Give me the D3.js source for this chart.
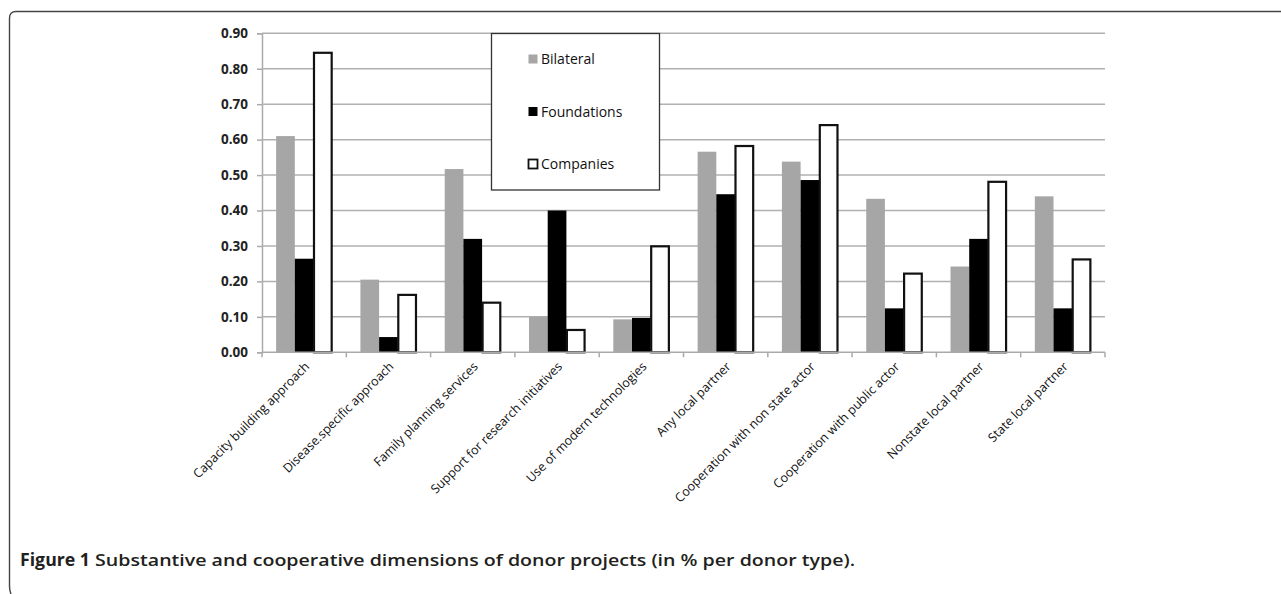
<!DOCTYPE html>
<html lang="en">
<head>
<meta charset="UTF-8">
<title>Donor projects</title>
<script src="https://d3js.org/d3.v7.min.js"></script>
<style>
    body { margin: 0; background: #fff; }
    .tick text { font-family: "Open Sans", sans-serif; }
    .ylab { font-size: 13.5px; font-weight: bold; fill: #222; }
    .xlab { font-size: 12.5px; fill: #111; }
    .leg { font-family: "Open Sans", sans-serif; font-size: 14px; fill: #111; }
    .caption { font-family: "Open Sans", sans-serif; font-size: 17px; fill: #231f20; }
</style>
</head>
<body>
<script>
    const width = 1281;
    const height = 594;

    const categories = [
        "Capacity building approach",
        "Disease.specific approach",
        "Family planning services",
        "Support for research initiatives",
        "Use of modern technologies",
        "Any local partner",
        "Cooperation with non state actor",
        "Cooperation with public actor",
        "Nonstate local partner",
        "State local partner"
    ];
    const seriesNames = ["Bilateral", "Foundations", "Companies"];
    const bilateral   = [0.610, 0.205, 0.517, 0.100, 0.093, 0.566, 0.538, 0.433, 0.242, 0.440];
    const foundations = [0.264, 0.043, 0.320, 0.400, 0.097, 0.446, 0.486, 0.124, 0.320, 0.124];
    const companies   = [0.845, 0.162, 0.140, 0.063, 0.299, 0.582, 0.641, 0.222, 0.481, 0.262];
    const yTicks = [0, 0.1, 0.2, 0.3, 0.4, 0.5, 0.6, 0.7, 0.8, 0.9];

    const values = { Bilateral: bilateral, Foundations: foundations, Companies: companies };
    const fills = { Bilateral: "#a6a6a6", Foundations: "#000", Companies: "#fff" };

    const svg = d3.select("body").append("svg")
        .attr("width", width)
        .attr("height", height);

    // figure frame (only top and left edges visible)
    svg.append("path")
        .attr("d", "M11,594 Q9.5,591 9.5,586 L9.5,18 Q9.5,11.5 16,11.5 L1281,11.5")
        .attr("fill", "none")
        .attr("stroke", "#444")
        .attr("stroke-width", 1.4);

    const plotL = 262, plotR = 1105, plotT = 33.3, plotB = 352.3;

    const x0 = d3.scaleBand().domain(categories).range([plotL, plotR]).paddingInner(0.335).paddingOuter(0.1675);
    const x1 = d3.scaleBand().domain(seriesNames).range([0, x0.bandwidth()]);
    const y = d3.scaleLinear().domain([0, 0.9]).range([plotB, plotT]);

    // gridlines + y axis
    const yAxis = svg.append("g")
        .attr("transform", `translate(${plotL},0)`)
        .call(d3.axisLeft(y).tickValues(yTicks).tickFormat(d3.format(".2f")).tickSize(5).tickPadding(9));
    yAxis.select(".domain").attr("stroke", "#aaa").attr("stroke-width", 1.5);
    yAxis.selectAll(".tick line").attr("stroke", "#aaa").attr("stroke-width", 1.5);
    yAxis.selectAll(".tick text").attr("class", "ylab");

    svg.append("g").selectAll("line")
        .data(yTicks.slice(1))
        .join("line")
        .attr("x1", plotL).attr("x2", plotR)
        .attr("y1", d => y(d)).attr("y2", d => y(d))
        .attr("stroke", "#b0b0b0")
        .attr("stroke-width", 1.5);

    // bars
    const groups = svg.append("g").selectAll("g")
        .data(categories)
        .join("g")
        .attr("transform", d => `translate(${x0(d)},0)`);

    groups.selectAll("rect")
        .data((c, i) => seriesNames.map(s => ({ s, v: values[s][i] })))
        .join("rect")
        .attr("x", d => x1(d.s) + (d.s === "Companies" ? 0.5 : 0))
        .attr("y", d => y(d.v))
        .attr("width", d => x1.bandwidth() - (d.s === "Companies" ? 1 : 0))
        .attr("height", d => y(0) - y(d.v))
        .attr("fill", d => fills[d.s])
        .attr("stroke", d => d.s === "Companies" ? "#111" : "none")
        .attr("stroke-width", 2.2);

    // x axis with ticks between categories
    const step = x0.step();
    svg.append("line")
        .attr("x1", plotL).attr("x2", plotR)
        .attr("y1", plotB).attr("y2", plotB)
        .attr("stroke", "#aaa").attr("stroke-width", 1.5);
    svg.append("g").selectAll("line")
        .data(d3.range(categories.length + 1))
        .join("line")
        .attr("x1", i => plotL + i * step).attr("x2", i => plotL + i * step)
        .attr("y1", plotB).attr("y2", plotB + 5)
        .attr("stroke", "#aaa").attr("stroke-width", 1.5);

    svg.append("g").selectAll("text")
        .data(categories)
        .join("text")
        .attr("class", "xlab")
        .attr("font-family", "Open Sans, sans-serif")
        .attr("text-anchor", "end")
        .attr("transform", d => `translate(${x0(d) + x0.bandwidth() / 2 + 6},${plotB + 15}) rotate(-45)`)
        .text(d => d);

    // legend
    const leg = svg.append("g");
    leg.append("rect")
        .attr("x", 491.5).attr("y", 33.5)
        .attr("width", 168).attr("height", 156.5)
        .attr("fill", "#fff")
        .attr("stroke", "#333")
        .attr("stroke-width", 1.3);
    const legY = d3.scalePoint().domain(seriesNames).range([59, 164]);
    seriesNames.forEach(s => {
        leg.append("rect")
            .attr("x", 528.5).attr("y", legY(s) - 4.5)
            .attr("width", 9).attr("height", 9)
            .attr("fill", fills[s])
            .attr("stroke", s === "Companies" ? "#111" : "none")
            .attr("stroke-width", 1.8);
        leg.append("text")
            .attr("class", "leg")
            .attr("x", 541)
            .attr("y", legY(s) + 5)
            .text(s);
    });

    // caption
    const cap = svg.append("text")
        .attr("class", "caption")
        .attr("x", 20)
        .attr("y", 566);
    cap.append("tspan")
        .attr("font-weight", "bold")
        .attr("textLength", 70)
        .attr("lengthAdjust", "spacingAndGlyphs")
        .text("Figure 1");
    cap.append("tspan")
        .attr("font-weight", 600)
        .attr("textLength", 765)
        .attr("lengthAdjust", "spacingAndGlyphs")
        .text(" Substantive and cooperative dimensions of donor projects (in % per donor type).");
</script>
</body>
</html>
